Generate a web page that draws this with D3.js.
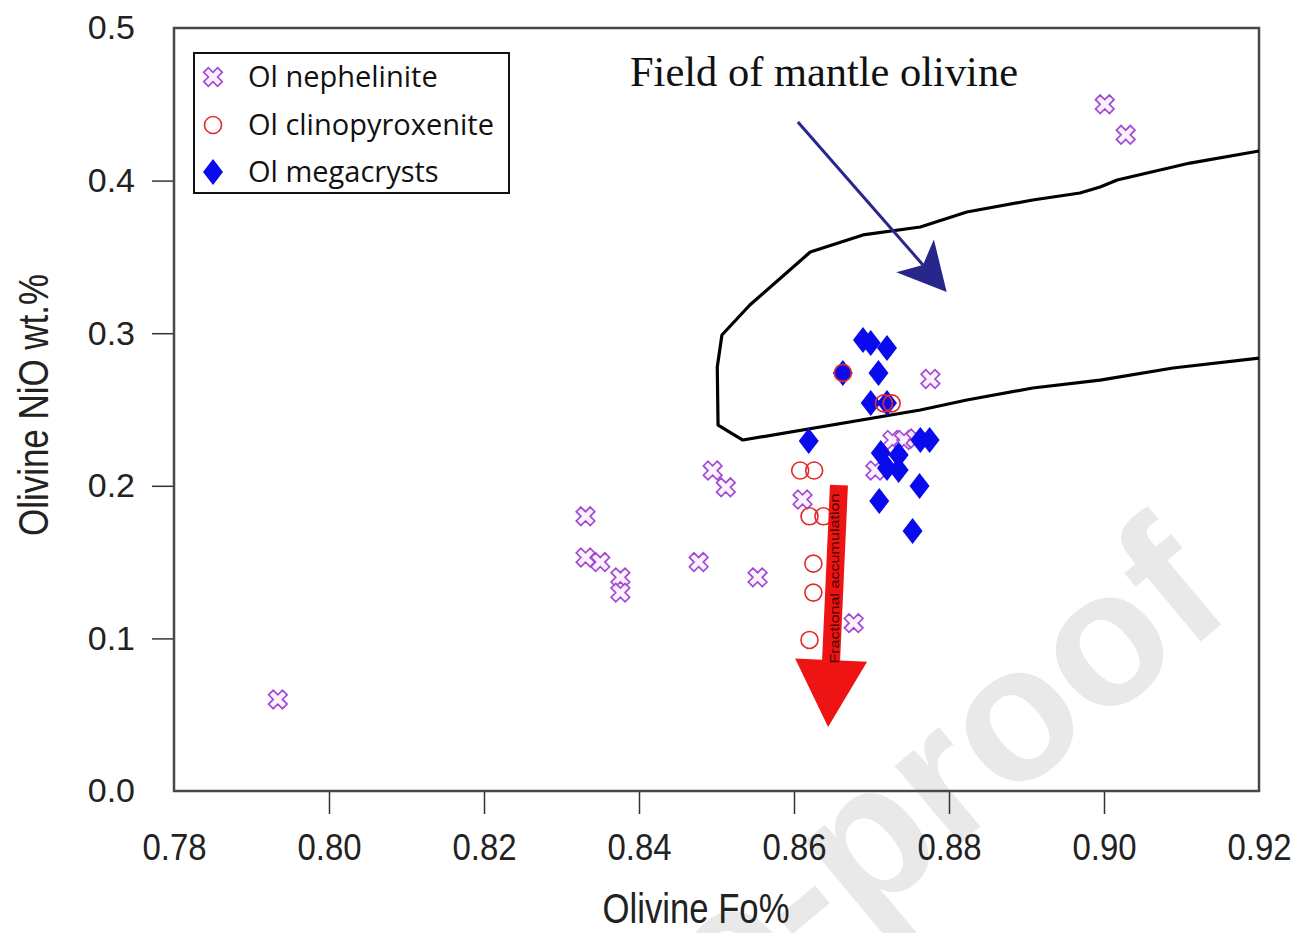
<!DOCTYPE html>
<html><head><meta charset="utf-8">
<script src="https://cdn.jsdelivr.net/npm/d3@7"></script>
<style>html,body{margin:0;padding:0;background:#fff;} svg{display:block;}</style>
</head><body><svg id="chart" width="1308" height="933"></svg>
<script>
// ---- data ----
const xTicks = [0.78, 0.80, 0.82, 0.84, 0.86, 0.88, 0.90, 0.92];
const yTicks = [0.0, 0.1, 0.2, 0.3, 0.4, 0.5];
const xLabel = "Olivine Fo%";
const yLabel = "Olivine NiO wt.%";
const seriesNames = ["Ol nephelinite", "Ol clinopyroxenite", "Ol megacrysts"];

const nephelinite = [
  [0.7934, 0.060], [0.8331, 0.180], [0.8331, 0.153], [0.8350, 0.150],
  [0.8376, 0.140], [0.8376, 0.130], [0.8477, 0.150], [0.8495, 0.210],
  [0.8512, 0.199], [0.8553, 0.140], [0.8611, 0.191], [0.8677, 0.110],
  [0.8776, 0.270], [0.8705, 0.210], [0.8727, 0.230], [0.8742, 0.230],
  [0.8757, 0.231], [0.9001, 0.450], [0.9028, 0.430]
];
const clinopyroxenite = [
  [0.8608, 0.210], [0.8626, 0.210], [0.8620, 0.180], [0.8638, 0.180],
  [0.8625, 0.149], [0.8625, 0.130], [0.8620, 0.099], [0.8663, 0.274],
  [0.8716, 0.254], [0.8726, 0.254]
];
const megacrysts = [
  [0.8689, 0.2955], [0.8699, 0.2936], [0.8720, 0.2903], [0.8663, 0.2740],
  [0.8709, 0.2740], [0.8699, 0.2543], [0.8720, 0.2543], [0.8619, 0.2294],
  [0.8712, 0.2215], [0.8735, 0.2202], [0.8763, 0.2300], [0.8775, 0.2300],
  [0.8720, 0.2117], [0.8735, 0.2104], [0.8762, 0.1999], [0.8710, 0.1900],
  [0.8753, 0.1704]
];
// field of mantle olivine outline (open on the right, at the plot edge)
const mantleField = [
  [0.9200, 0.4194], [0.9111, 0.4115], [0.9017, 0.4004], [0.8995, 0.3958],
  [0.8969, 0.3919], [0.8908, 0.3873], [0.8823, 0.3794], [0.8763, 0.3696],
  [0.8689, 0.3644], [0.8621, 0.3532], [0.8543, 0.3185], [0.8507, 0.2988],
  [0.8501, 0.2779], [0.8502, 0.2398], [0.8534, 0.2300], [0.8763, 0.2497],
  [0.8823, 0.2562], [0.8908, 0.2641], [0.8995, 0.2693], [0.9089, 0.2772],
  [0.9200, 0.2837]
];
const fieldLabel = "Field of mantle olivine";
const fieldArrow = [[0.8605, 0.4384], [0.8797, 0.3270]];
const fracArrow = [[0.8658, 0.2005], [0.8644, 0.0419]];
const fracLabel = "Fractional accumulation";
const watermark = "Journal Pre-proof";

// ---- layout ----
const svg = d3.select("#chart");
const W = 1308, H = 933;
const L = 174, R = 1259, T = 28, B = 791;
const x = d3.scaleLinear().domain([0.78, 0.92]).range([L, R]);
const y = d3.scaleLinear().domain([0.0, 0.5]).range([B, T]);

svg.append("rect").attr("width", W).attr("height", H).attr("fill", "#fff");

// watermark (beneath everything)
svg.append("text")
  .attr("transform", "translate(1236,612) rotate(-40)")
  .attr("text-anchor", "end")
  .attr("font-family", "Liberation Sans, Arial, sans-serif")
  .attr("font-weight", "bold")
  .attr("font-size", 192)
  .attr("fill", "#e9e9e9")
  .text(watermark);

// axes
const yAxis = d3.axisLeft(y).tickValues(yTicks).tickFormat(d3.format(".1f"))
  .tickSizeInner(22).tickSizeOuter(0).tickPadding(17);
const gy = svg.append("g").attr("transform", `translate(${L},0)`).call(yAxis);
gy.select(".domain").remove();
gy.selectAll(".tick line").attr("stroke", "#333").attr("stroke-width", 1.5)
  .attr("display", d => (d === 0 || d === 0.5) ? "none" : null);
gy.selectAll(".tick text").attr("font-family", "Liberation Sans, Arial, sans-serif")
  .attr("font-size", 34).attr("fill", "#222");

const xAxis = d3.axisBottom(x).tickValues(xTicks).tickFormat(d3.format(".2f"))
  .tickSizeInner(23).tickSizeOuter(0).tickPadding(20);
const gx = svg.append("g").attr("transform", `translate(0,${B})`).call(xAxis);
gx.select(".domain").remove();
gx.selectAll(".tick line").attr("stroke", "#333").attr("stroke-width", 1.5)
  .attr("display", (d, i) => (i === 0 || i === xTicks.length - 1) ? "none" : null);
gx.selectAll(".tick text").attr("font-family", "Liberation Sans, Arial, sans-serif")
  .attr("font-size", 37).attr("fill", "#222").attr("transform", "scale(0.89,1)");

// axis titles
svg.append("text").attr("x", 696).attr("y", 923).attr("text-anchor", "middle")
  .attr("font-family", "Liberation Sans, Arial, sans-serif").attr("font-size", 42)
  .attr("fill", "#222").attr("textLength", 187).attr("lengthAdjust", "spacingAndGlyphs")
  .text(xLabel);
svg.append("text").attr("transform", "translate(48,405) rotate(-90)").attr("text-anchor", "middle")
  .attr("font-family", "Liberation Sans, Arial, sans-serif").attr("font-size", 42)
  .attr("fill", "#222").attr("textLength", 262).attr("lengthAdjust", "spacingAndGlyphs")
  .text(yLabel);

// plot box
svg.append("rect").attr("x", L).attr("y", T).attr("width", R - L).attr("height", B - T)
  .attr("fill", "none").attr("stroke", "#484848").attr("stroke-width", 2.5);

// mantle field
svg.append("path").datum(mantleField)
  .attr("d", d3.line().x(d => x(d[0])).y(d => y(d[1])))
  .attr("fill", "none").attr("stroke", "#000").attr("stroke-width", 3.2)
  .attr("stroke-linejoin", "round");

// field label
svg.append("text").attr("x", 630).attr("y", 86)
  .attr("font-family", "Liberation Serif, Times New Roman, serif").attr("font-size", 42)
  .attr("fill", "#111").attr("textLength", 388).attr("lengthAdjust", "spacingAndGlyphs")
  .text(fieldLabel);

// blue arrow
(function () {
  const p0 = [x(fieldArrow[0][0]), y(fieldArrow[0][1])];
  const p1 = [x(fieldArrow[1][0]), y(fieldArrow[1][1])];
  const dx = p1[0] - p0[0], dy = p1[1] - p0[1], len = Math.hypot(dx, dy);
  const u = [dx / len, dy / len], n = [-u[1], u[0]];
  const headLen = 48, half = 25, notch = 36;
  const base = [p1[0] - u[0] * headLen, p1[1] - u[1] * headLen];
  const nt = [p1[0] - u[0] * notch, p1[1] - u[1] * notch];
  svg.append("line").attr("x1", p0[0]).attr("y1", p0[1]).attr("x2", nt[0]).attr("y2", nt[1])
    .attr("stroke", "#27268b").attr("stroke-width", 3);
  svg.append("polygon").attr("points", [p1,
    [base[0] + n[0] * half, base[1] + n[1] * half], nt,
    [base[0] - n[0] * half, base[1] - n[1] * half]].map(p => p.join(",")).join(" "))
    .attr("fill", "#27268b");
})();

// markers
const crossSym = d3.symbol(d3.symbolCross).size(215)();
svg.append("g").selectAll("path").data(nephelinite).join("path")
  .attr("d", crossSym)
  .attr("transform", d => `translate(${x(d[0])},${y(d[1])}) rotate(45)`)
  .attr("fill", "#fbf0fd").attr("fill-opacity", 0.85)
  .attr("stroke", "#a24bd3").attr("stroke-width", 1.7);

const diamondPath = "M0,-13L10,0L0,13L-10,0Z";
svg.append("g").selectAll("path").data(megacrysts).join("path")
  .attr("d", diamondPath)
  .attr("transform", d => `translate(${x(d[0])},${y(d[1])})`)
  .attr("fill", "#0a0aee");

svg.append("g").selectAll("circle").data(clinopyroxenite).join("circle")
  .attr("cx", d => x(d[0])).attr("cy", d => y(d[1])).attr("r", 8.5)
  .attr("fill", "none").attr("stroke", "#e02b2b").attr("stroke-width", 1.6);

// red arrow (fractional accumulation)
(function () {
  const p0 = [x(fracArrow[0][0]), y(fracArrow[0][1])];
  const p1 = [x(fracArrow[1][0]), y(fracArrow[1][1])];
  const dx = p1[0] - p0[0], dy = p1[1] - p0[1], len = Math.hypot(dx, dy);
  const u = [dx / len, dy / len], n = [-u[1], u[0]];
  const headLen = 67, sh = 9, hh = 36;
  const base = [p1[0] - u[0] * headLen, p1[1] - u[1] * headLen];
  const pts = [
    [p0[0] + n[0] * sh, p0[1] + n[1] * sh],
    [base[0] + n[0] * sh, base[1] + n[1] * sh],
    [base[0] + n[0] * hh, base[1] + n[1] * hh],
    p1,
    [base[0] - n[0] * hh, base[1] - n[1] * hh],
    [base[0] - n[0] * sh, base[1] - n[1] * sh],
    [p0[0] - n[0] * sh, p0[1] - n[1] * sh]
  ];
  svg.append("polygon").attr("points", pts.map(p => p.join(",")).join(" "))
    .attr("fill", "#ee1414");
  const mid = [(p0[0] + base[0]) / 2, (p0[1] + base[1]) / 2 + 6];
  svg.append("text").attr("transform", `translate(${mid[0] + 4},${mid[1]}) rotate(-90)`)
    .attr("text-anchor", "middle").attr("font-family", "Liberation Sans, Arial, sans-serif")
    .attr("font-size", 12).attr("fill", "#4a0000")
    .attr("textLength", 170).attr("lengthAdjust", "spacingAndGlyphs")
    .text(fracLabel);
})();

// legend
const lg = svg.append("g");
lg.append("rect").attr("x", 194).attr("y", 53).attr("width", 315).attr("height", 140)
  .attr("fill", "#fff").attr("stroke", "#111").attr("stroke-width", 2);
const rows = [77, 125, 172];
lg.append("path").attr("d", crossSym).attr("transform", `translate(213,${rows[0]}) rotate(45)`)
  .attr("fill", "#fbf0fd").attr("stroke", "#a24bd3").attr("stroke-width", 1.7);
lg.append("circle").attr("cx", 213).attr("cy", rows[1]).attr("r", 8.5)
  .attr("fill", "none").attr("stroke", "#e02b2b").attr("stroke-width", 1.6);
lg.append("path").attr("d", diamondPath).attr("transform", `translate(213,${rows[2]})`)
  .attr("fill", "#0a0aee");
lg.selectAll("text.lbl").data(seriesNames).join("text").attr("class", "lbl")
  .attr("x", 248).attr("y", (d, i) => rows[i] + 10)
  .attr("font-family", "Open Sans, sans-serif").attr("font-size", 29).attr("fill", "#111")
  .text(d => d);
</script>
</body></html>
